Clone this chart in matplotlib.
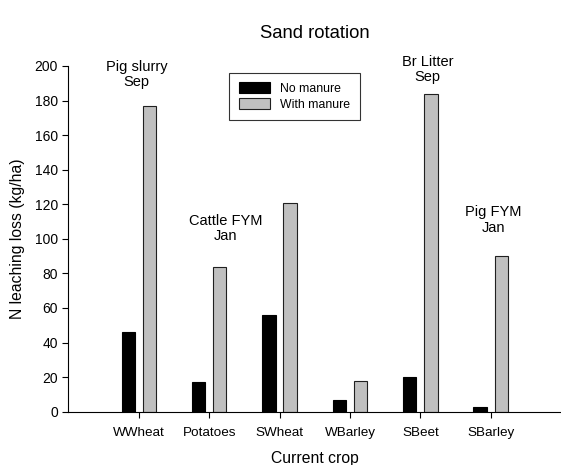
import numpy as np
import matplotlib
matplotlib.use('Agg')
import matplotlib.pyplot as plt

plt.rcParams['font.family'] = ['Liberation Sans', 'DejaVu Sans']

crops = ['WWheat', 'Potatoes', 'SWheat', 'WBarley', 'SBeet', 'SBarley']
no_manure = [46, 17, 56, 7, 20, 3]
with_manure = [177, 84, 121, 18, 184, 90]

# 施肥说明 (x位置, y位置)
notes = ['Pig slurry\nSep', 'Cattle FYM\nJan', 'Br Litter\nSep', 'Pig FYM\nJan']
note_x = [0.97, 2.23, 5.10, 6.04]
note_y = [195, 106, 198, 111]

x = np.arange(1, len(crops) + 1)
w = 0.19

fig = plt.figure(figsize=(5.61, 4.65), dpi=100)
ax = fig.add_axes([0.1221, 0.1146, 0.878, 0.7435])

ax.bar(x - 0.15, no_manure, w, color='black', edgecolor='black', linewidth=0.8, label='No manure')
ax.bar(x + 0.15, with_manure, w, color='#c0c0c0', edgecolor='#202020', linewidth=0.8, label='With manure')

for t, xx, yy in zip(notes, note_x, note_y):
    ax.text(xx, yy, t, ha='center', va='center', fontsize=10.5, linespacing=1.15)

ax.set_xlim(0, 7)
ax.set_ylim(0, 200)
ax.set_xticks(x)
ax.set_xticklabels(crops, fontsize=9.7)
ax.set_yticks(np.arange(0, 201, 20))
ax.tick_params(axis='y', labelsize=10, direction='out', length=4)
ax.tick_params(axis='x', direction='out', length=4, pad=7)
ax.spines['top'].set_visible(False)
ax.spines['right'].set_visible(False)
ax.set_xlabel('Current crop', fontsize=11.3, labelpad=9)
ax.set_ylabel('N leaching loss (kg/ha)', fontsize=11.3, labelpad=7)
fig.text(0.561, 0.929, 'Sand rotation', ha='center', va='center', fontsize=13.3)

leg = ax.legend(loc='upper left', bbox_to_anchor=(0.408, 0.8437), bbox_transform=fig.transFigure,
                fontsize=8.8, fancybox=False, frameon=True, edgecolor='black', borderaxespad=0,
                handlelength=2.6, handleheight=0.9, labelspacing=0.3, borderpad=0.8)
leg.get_frame().set_linewidth(0.8)

plt.savefig('out.png', dpi=100)
